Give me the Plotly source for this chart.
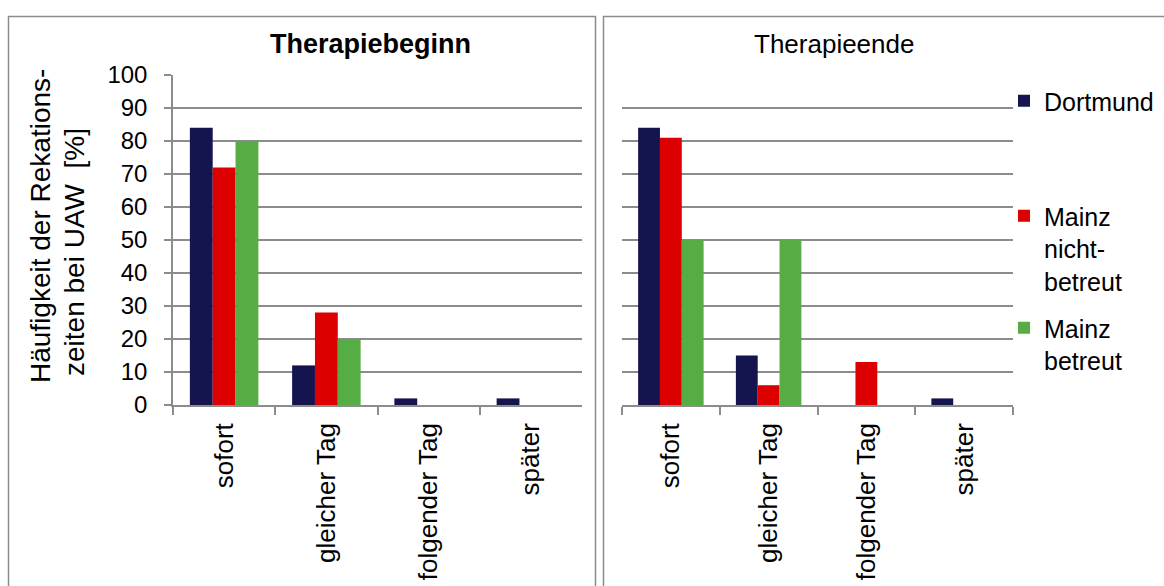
import plotly.graph_objects as go

# Reaction-time categories
categories = ["sofort", "gleicher Tag", "folgender Tag", "später"]

# Frequencies in percent, therapy start
dortmund_beginn = [84, 12, 2, 2]
mainz_nicht_betreut_beginn = [72, 28, 0, 0]
mainz_betreut_beginn = [80, 20, 0, 0]

# Frequencies in percent, therapy end
dortmund_ende = [84, 15, 0, 2]
mainz_nicht_betreut_ende = [81, 6, 13, 0]
mainz_betreut_ende = [50, 50, 0, 0]

series_names = ["Dortmund", "Mainz<br>nicht-<br>betreut", "Mainz<br>betreut"]
y_ticks = [0, 10, 20, 30, 40, 50, 60, 70, 80, 90, 100]

W, H = 1164, 586
FONT = "Liberation Sans, Arial, sans-serif"
GRID = "#8c8c8c"
colors = ["#14144f", "#dd0000", "#55ad44"]


def px_x(v):
    return v / W


def px_y(v):
    return 1 - v / H


fig = go.Figure()

beginn = [dortmund_beginn, mainz_nicht_betreut_beginn, mainz_betreut_beginn]
ende = [dortmund_ende, mainz_nicht_betreut_ende, mainz_betreut_ende]
legends = ["legend", "legend2", "legend3"]

for i, name in enumerate(series_names):
    fig.add_trace(go.Bar(
        x=categories, y=beginn[i], name=name, xaxis="x", yaxis="y",
        marker=dict(color=colors[i], line=dict(width=0)),
        legend=legends[i], showlegend=True, legendgroup=str(i),
    ))
    fig.add_trace(go.Bar(
        x=categories, y=ende[i], name=name, xaxis="x2", yaxis="y2",
        marker=dict(color=colors[i], line=dict(width=0)),
        legend=legends[i], showlegend=False, legendgroup=str(i),
    ))

y_dom = [px_y(405), px_y(75)]

xaxis_common = dict(
    type="category", categoryorder="array", categoryarray=categories,
    tickson="boundaries", ticks="outside", ticklen=8, tickwidth=1.5,
    tickcolor=GRID, showline=True, linecolor=GRID, linewidth=1.5,
    showgrid=False, tickangle=-90, ticklabelstandoff=6, automargin=False,
    tickfont=dict(family=FONT, size=26, color="black"),
)

legend_common = dict(
    x=px_x(1004), xanchor="left", yanchor="top", bgcolor="rgba(0,0,0,0)",
    font=dict(family=FONT, size=25, color="black"), valign="top",
    itemclick=False, itemdoubleclick=False,
)

fig.update_layout(
    width=W, height=H,
    margin=dict(l=0, r=0, t=0, b=0, autoexpand=False),
    paper_bgcolor="white", plot_bgcolor="white",
    barmode="group", bargap=0.33, bargroupgap=0,
    font=dict(family=FONT, color="black"),
    xaxis=dict(domain=[px_x(173), px_x(582)], anchor="y", **xaxis_common),
    xaxis2=dict(domain=[px_x(622), px_x(1013)], anchor="y2", **xaxis_common),
    yaxis=dict(
        domain=y_dom, anchor="x", range=[0, 100], tickvals=y_ticks,
        showgrid=True, gridcolor=GRID, gridwidth=1.5,
        showline=True, linecolor=GRID, linewidth=1.5,
        ticks="outside", ticklen=7, tickwidth=1.5, tickcolor=GRID,
        ticklabelstandoff=12, zeroline=False, automargin=False,
        tickfont=dict(family=FONT, size=24, color="black"),
    ),
    yaxis2=dict(
        domain=y_dom, anchor="x2", range=[0, 100], tickvals=y_ticks,
        showgrid=True, gridcolor=GRID, gridwidth=1.5, automargin=False,
        showline=False, showticklabels=False, ticks="", zeroline=False,
    ),
    legend=dict(y=px_y(78), **legend_common),
    legend2=dict(y=px_y(193), **legend_common),
    legend3=dict(y=px_y(305), **legend_common),
    showlegend=True,
)

# Panel frames
frame = dict(type="rect", xref="paper", yref="paper",
             line=dict(color=GRID, width=1.5), fillcolor="rgba(0,0,0,0)", layer="below")
fig.add_shape(x0=px_x(8.5), x1=px_x(595.5), y0=-0.05, y1=px_y(16.5), **frame)
fig.add_shape(x0=px_x(603.5), x1=1.05, y0=-0.05, y1=px_y(16.5), **frame)

# Panel titles
fig.add_annotation(text="<b>Therapiebeginn</b>", x=px_x(370), y=px_y(44),
                   xref="paper", yref="paper", showarrow=False,
                   xanchor="center", yanchor="middle",
                   font=dict(family=FONT, size=27, color="black"))
fig.add_annotation(text="Therapieende", x=px_x(834), y=px_y(44),
                   xref="paper", yref="paper", showarrow=False,
                   xanchor="center", yanchor="middle",
                   font=dict(family=FONT, size=26, color="black"))

# Y-axis title, two rotated lines
fig.add_annotation(text="Häufigkeit der Rekations-", x=px_x(41), y=px_y(226),
                   xref="paper", yref="paper", showarrow=False, textangle=-90,
                   xanchor="center", yanchor="middle",
                   font=dict(family=FONT, size=28, color="black"))
fig.add_annotation(text="zeiten bei UAW  [%]", x=px_x(75), y=px_y(252),
                   xref="paper", yref="paper", showarrow=False, textangle=-90,
                   xanchor="center", yanchor="middle",
                   font=dict(family=FONT, size=28, color="black"))

fig.write_html("out.html")
